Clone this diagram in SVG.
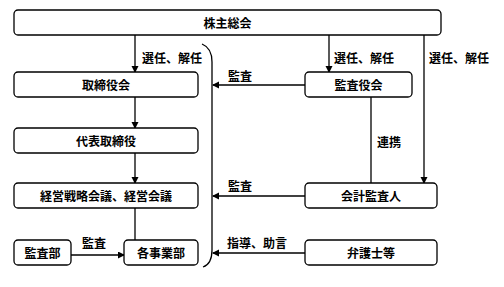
<svg xmlns="http://www.w3.org/2000/svg" width="504" height="287" viewBox="0 0 504 287">
<defs>
<marker id="ah" markerWidth="8" markerHeight="8" refX="6" refY="3.5" orient="auto" markerUnits="userSpaceOnUse">
<path d="M0,0 L7,3.5 L0,7 Z" fill="#000"/>
</marker>
<style>
.box{fill:#fff;stroke:#000;stroke-width:1.3}
.t{font-family:"Noto Sans CJK JP","Liberation Sans",sans-serif;font-size:12px;font-weight:bold;fill:#000;text-anchor:middle;dominant-baseline:central}
.l{font-family:"Noto Sans CJK JP","Liberation Sans",sans-serif;font-size:12px;font-weight:bold;fill:#000;text-anchor:start;dominant-baseline:central}
.c{fill:none;stroke:#000;stroke-width:1.3}
.a{fill:none;stroke:#000;stroke-width:1.3;marker-end:url(#ah)}
</style>
</defs>
<rect width="504" height="287" fill="#fff"/>
<g id="connectors">
<path class="a" d="M135,35 V72"/>
<path class="a" d="M329,35 V72"/>
<path class="a" d="M424,35 V183"/>
<path class="c" d="M371,97 V183"/>
<path class="a" d="M135,97 V128"/>
<path class="a" d="M135,153 V183"/>
<path class="c" d="M135,208 V240"/>
<path class="a" d="M71,255 H124"/>
<path class="c" d="M202,44 Q212,48 212,62 V250 Q212,264 203,267"/>
<path class="a" d="M305,85 H213"/>
<path class="a" d="M305,196 H213"/>
<path class="a" d="M305,253 H213"/>
<text class="l" x="142" y="57">選任、解任</text>
<text class="l" x="334" y="57">選任、解任</text>
<text class="l" x="429" y="57">選任、解任</text>
<text class="l" x="377" y="141">連携</text>
<text class="l" x="228" y="75">監査</text>
<text class="l" x="228" y="185">監査</text>
<text class="l" x="227" y="242">指導、助言</text>
<text class="l" x="82" y="242">監査</text>
</g>
<g id="kabunushi"><rect class="box" x="14" y="10" width="427" height="25" rx="4"/><text class="t" x="227.5" y="22.5">株主総会</text></g>
<g id="torishimariyakukai"><rect class="box" x="14" y="72" width="184" height="25" rx="4"/><text class="t" x="106" y="84.5">取締役会</text></g>
<g id="daihyo"><rect class="box" x="14" y="128" width="184" height="25" rx="4"/><text class="t" x="106" y="140.5">代表取締役</text></g>
<g id="keiei"><rect class="box" x="14" y="183" width="184" height="25" rx="4"/><text class="t" x="106" y="195.5">経営戦略会議、経営会議</text></g>
<g id="kansabu"><rect class="box" x="14" y="240" width="57" height="25" rx="4"/><text class="t" x="42.5" y="252.5">監査部</text></g>
<g id="jigyobu"><rect class="box" x="124" y="240" width="74" height="25" rx="4"/><text class="t" x="161" y="252.5">各事業部</text></g>
<g id="kansayakukai"><rect class="box" x="305" y="72" width="107" height="25" rx="4"/><text class="t" x="358.5" y="84.5">監査役会</text></g>
<g id="kaikei"><rect class="box" x="305" y="183" width="132" height="25" rx="4"/><text class="t" x="371" y="195.5">会計監査人</text></g>
<g id="bengoshi"><rect class="box" x="305" y="240" width="132" height="25" rx="4"/><text class="t" x="371" y="252.5">弁護士等</text></g>
</svg>
